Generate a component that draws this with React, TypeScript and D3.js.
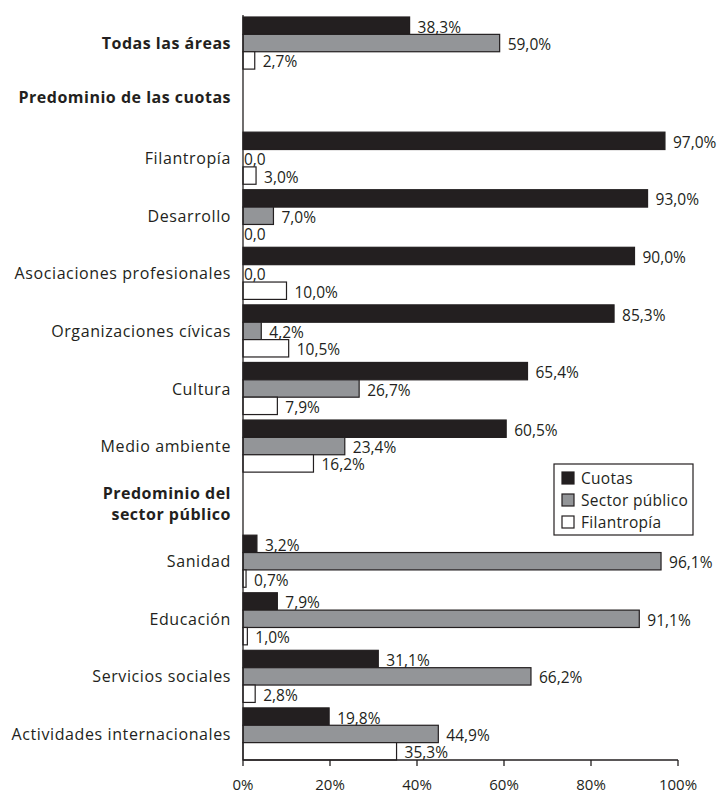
import React from 'react';
import * as d3 from 'd3';

// rows top to bottom; headers carry no bars
const rows = [
  'Todas las áreas',
  'Predominio de las cuotas',
  'Filantropía',
  'Desarrollo',
  'Asociaciones profesionales',
  'Organizaciones cívicas',
  'Cultura',
  'Medio ambiente',
  'Predominio del sector público',
  'Sanidad',
  'Educación',
  'Servicios sociales',
  'Actividades internacionales',
];
const headerRows = ['Predominio de las cuotas', 'Predominio del sector público'];
const boldRows = ['Todas las áreas', ...headerRows];

const seriesNames = ['Cuotas', 'Sector público', 'Filantropía'];
const cuotas = [38.3, null, 97.0, 93.0, 90.0, 85.3, 65.4, 60.5, null, 3.2, 7.9, 31.1, 19.8];
const sectorPublico = [59.0, null, 0.0, 7.0, 0.0, 4.2, 26.7, 23.4, null, 96.1, 91.1, 66.2, 44.9];
const filantropia = [2.7, null, 3.0, 0.0, 10.0, 10.5, 7.9, 16.2, null, 0.7, 1.0, 2.8, 35.3];
const xTicks = [0, 20, 40, 60, 80, 100];

const colors = ['#231f20', '#939598', '#ffffff'];
const ink = '#231f20';
const font = '"Open Sans", Lato, sans-serif';

const W = 718;
const H = 794;
const m = { left: 243, right: 40, top: 17, bottom: 34 };

export default function App() {
  const x = d3.scaleLinear().domain([0, 100]).range([m.left, W - m.right]);
  const y = d3.scaleBand<string>().domain(rows).range([m.top, H - m.bottom]).paddingInner(0.095).paddingOuter(0);
  const inner = d3.scaleBand<string>().domain(seriesNames).range([0, y.bandwidth()]).padding(0);
  const values = [cuotas, sectorPublico, filantropia];
  const fmt = (v: number) => (v === 0 ? '0,0' : d3.format('.1f')(v).replace('.', ',') + '%');
  const axisY = H - m.bottom;

  return (
    <svg width={W} height={H} style={{ position: 'absolute', left: 0, top: 0, background: '#fff' }} fontFamily={font}>
      {rows.map((r, i) => {
        const y0 = y(r)!;
        const isHeader = headerRows.includes(r);
        const bold = boldRows.includes(r);
        const cy = y0 + y.bandwidth() / 2;
        const lines = r === 'Predominio del sector público' ? ['Predominio del', 'sector público'] : [r];
        return (
          <g key={r}>
            <text
              x={231}
              y={isHeader && lines.length > 1 ? cy - 11 : isHeader ? cy - 4 : cy}
              textAnchor="end"
              dominantBaseline="central"
              fontSize={16}
              letterSpacing={bold ? 0.5 : 0.6}
              fontWeight={bold ? 700 : 400}
              fill={ink}
            >
              {lines.map((l, k) => (
                <tspan key={k} x={231} dy={k === 0 ? 0 : 21}>
                  {l}
                </tspan>
              ))}
            </text>
            {!isHeader &&
              seriesNames.map((s, j) => {
                const v = values[j][i] as number;
                const by = y0 + inner(s)!;
                const bw = x(v) - x(0);
                return (
                  <g key={s}>
                    {v > 0 && (
                      <rect x={x(0)} y={by} width={bw} height={inner.bandwidth()} fill={colors[j]} stroke={ink} strokeWidth={1.2} />
                    )}
                    <text
                      x={v === 0 ? x(0) + 1 : x(v) + 8}
                      y={by + inner.bandwidth() / 2 + 1}
                      dominantBaseline="central"
                      fontSize={15.5}
                      fill={ink}
                    >
                      {fmt(v)}
                    </text>
                  </g>
                );
              })}
          </g>
        );
      })}
      {/* axes */}
      <line x1={x(0)} x2={x(0)} y1={15} y2={axisY} stroke={ink} strokeWidth={1.3} />
      <line x1={x(0)} x2={x(100)} y1={axisY} y2={axisY} stroke={ink} strokeWidth={1.3} />
      {xTicks.map((t) => (
        <g key={t}>
          <line x1={x(t)} x2={x(t)} y1={axisY} y2={axisY + 6} stroke={ink} strokeWidth={1.3} />
          <text x={x(t)} y={axisY + 24} textAnchor="middle" dominantBaseline="central" fontSize={15} fill={ink}>
            {t}%
          </text>
        </g>
      ))}
      {/* legend */}
      <g transform="translate(554,464)">
        <rect x={0} y={0} width={139} height={71} fill="#fff" stroke={ink} strokeWidth={1.2} />
        {seriesNames.map((s, j) => (
          <g key={s} transform={`translate(8,${14 + j * 22})`}>
            <rect x={0} y={-6} width={12} height={12} fill={colors[j]} stroke={ink} strokeWidth={1.2} />
            <text x={19} y={0} dominantBaseline="central" fontSize={15.5} letterSpacing={0.3} fill={ink}>
              {s}
            </text>
          </g>
        ))}
      </g>
    </svg>
  );
}
